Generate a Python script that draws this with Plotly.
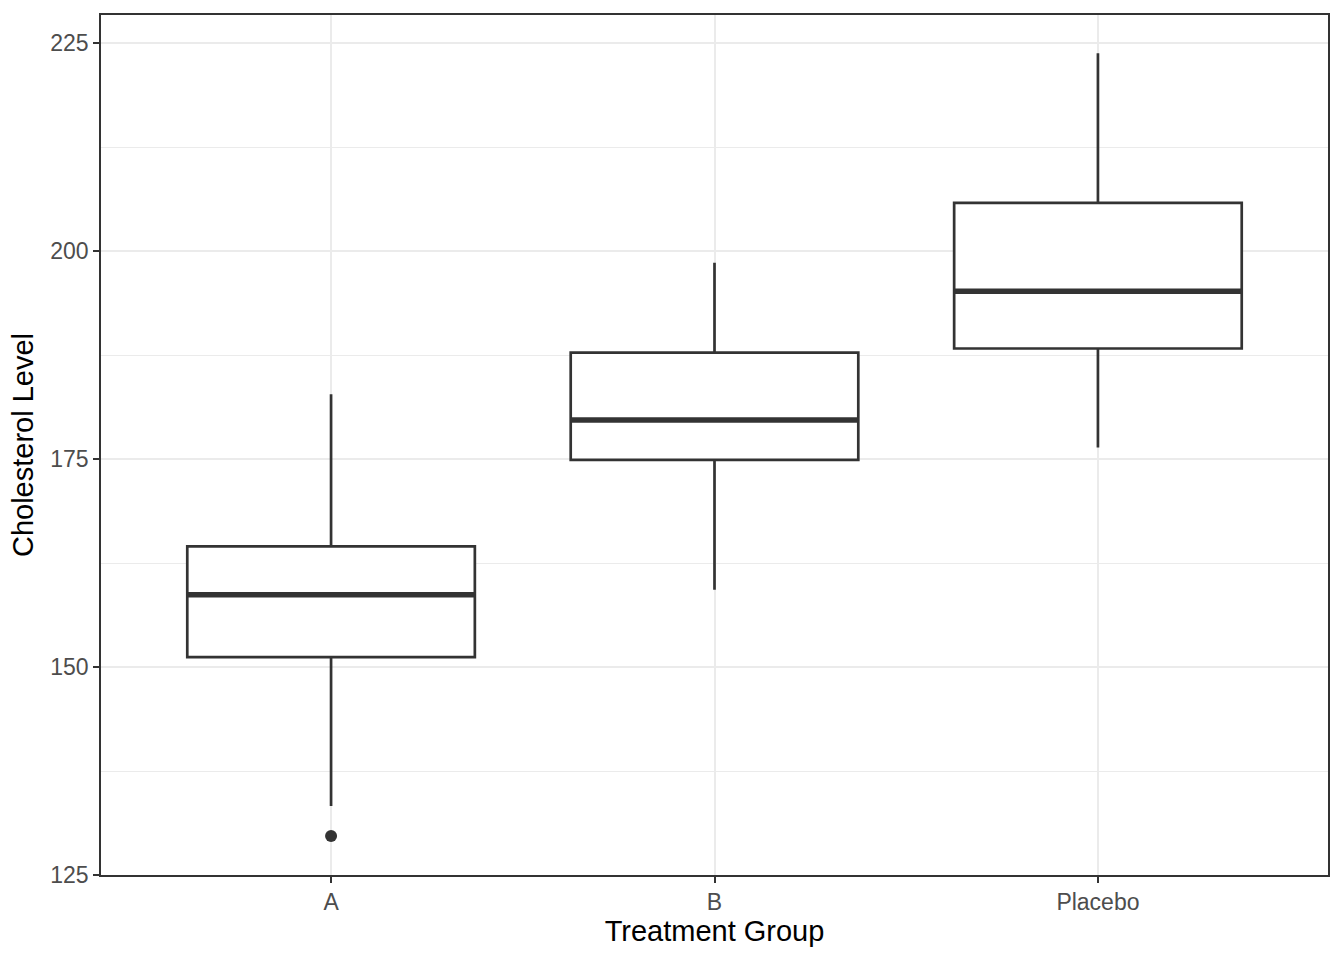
import plotly.graph_objects as go

groups = ["A", "B", "Placebo"]
positions = [0, 1, 2]
q1 = [151.2, 174.9, 188.3]
median = [158.7, 179.7, 195.2]
q3 = [164.5, 187.8, 205.8]
lower = [133.3, 159.3, 176.4]
upper = [182.8, 198.6, 223.8]
outlier_group = [0]
outlier_value = [129.7]

box_w = 0.75
line_col = "#333333"

fig = go.Figure()
fig.add_trace(go.Box(
    x=positions, q1=q1, median=median, q3=q3,
    lowerfence=lower, upperfence=upper,
    width=box_w, whiskerwidth=0,
    line=dict(color=line_col, width=2.7),
    fillcolor="white", boxpoints=False, showlegend=False,
))

# thicker median lines (ggplot fatten)
mx, my = [], []
for p, m in zip(positions, median):
    mx += [p - box_w / 2, p + box_w / 2, None]
    my += [m, m, None]
fig.add_trace(go.Scatter(x=mx, y=my, mode="lines",
                         line=dict(color=line_col, width=5.5),
                         showlegend=False, hoverinfo="skip"))

fig.add_trace(go.Scatter(x=outlier_group, y=outlier_value, mode="markers",
                         marker=dict(color=line_col, size=12),
                         showlegend=False))

font_fam = "Liberation Sans, Arial, sans-serif"
fig.update_layout(
    width=1344, height=960,
    margin=dict(l=101, r=16, t=15, b=85),
    plot_bgcolor="white", paper_bgcolor="white",
    font=dict(family=font_fam),
)
fig.update_xaxes(
    range=[-0.6, 2.6], tickmode="array", tickvals=positions, ticktext=groups,
    showgrid=True, gridcolor="#EBEBEB", gridwidth=2, zeroline=False,
    showline=True, linecolor=line_col, linewidth=1.5, mirror=True,
    ticks="outside", ticklen=6, tickwidth=2, tickcolor=line_col,
    tickfont=dict(size=23, color="#4D4D4D"),
    title=dict(text="Treatment Group", font=dict(size=29, color="black"), standoff=3),
)
fig.update_yaxes(
    range=[125.0, 228.4], tickmode="array", tickvals=[125, 150, 175, 200, 225],
    showgrid=True, gridcolor="#EBEBEB", gridwidth=2, zeroline=False,
    minor=dict(tickmode="array", tickvals=[137.5, 162.5, 187.5, 212.5],
               showgrid=True, gridcolor="#EBEBEB", gridwidth=1, ticks=""),
    showline=True, linecolor=line_col, linewidth=1.5, mirror=True,
    ticks="outside", ticklen=6, tickwidth=2, tickcolor=line_col,
    tickfont=dict(size=23, color="#4D4D4D"),
    title=dict(text="Cholesterol Level", font=dict(size=29, color="black"), standoff=8),
)

fig.write_html("out.html", config={"displayModeBar": False},
               post_script="document.body.style.margin='0';")
